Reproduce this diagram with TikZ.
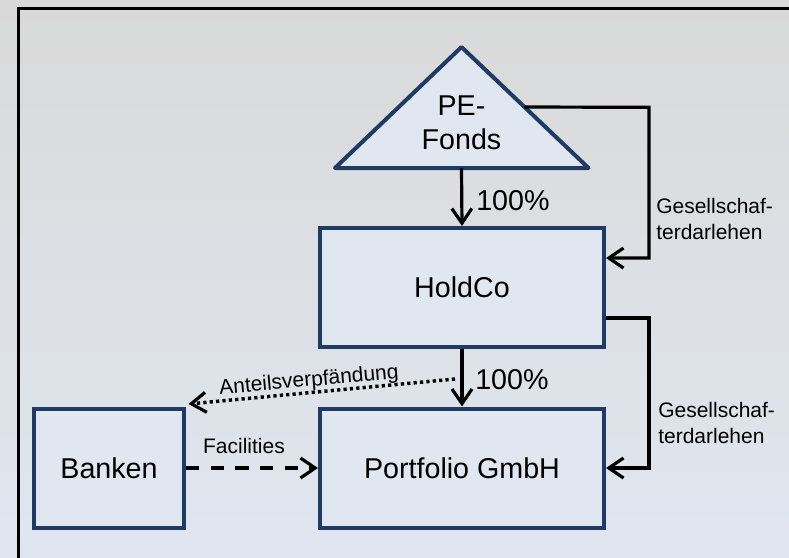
\documentclass[tikz,border=0pt]{standalone}
\usepackage{fontspec}
\setmainfont{Liberation Sans}
\usetikzlibrary{arrows.meta,calc}
\definecolor{bgtop}{HTML}{D9D9D9}
\definecolor{bgbot}{HTML}{E0E6F0}
\definecolor{boxfill}{HTML}{E0E7F1}
\definecolor{boxline}{HTML}{1F3B63}
\tikzset{
  entity/.style={draw=boxline, fill=boxfill, line width=3pt, minimum width=213pt,
    minimum height=89.25pt, inner sep=0pt, font=\fontsize{21.5}{25.5}\selectfont},
  flow/.style={line width=2.4pt, -{Straight Barb[length=11pt,width=15pt,line width=2.4pt]}},
  bigtxt/.style={font=\fontsize{21.5}{25.5}\selectfont, inner sep=0pt},
  smalltxt/.style={font=\fontsize{15.75}{19.5}\selectfont, inner sep=0pt, align=left},
}
\begin{document}
\begin{tikzpicture}[x=0.75pt,y=-0.75pt]
  \useasboundingbox (0,0) rectangle (789,557);
  \clip (0,0) rectangle (789,557);
  % background and frame
  \shade[top color=bgtop, bottom color=bgbot] (0,0) rectangle (789,557);
  \draw[line width=2pt] (18.5,8.2) rectangle (820,600);

  % fund (triangle)
  \coordinate (apex) at (461.5,47);
  \coordinate (bl) at (335,168);
  \coordinate (br) at (588.5,168);
  \filldraw[draw=boxline, fill=boxfill, line width=3pt, line join=round]
    (apex) -- (br) -- (bl) -- cycle;
  \coordinate (pebase) at (461.5,168);
  \coordinate (peside) at ($(apex)!0.496!(br)$);
  \node[bigtxt, align=center] (pe) at (461.5,123) {PE-\\Fonds};

  % companies
  \node[entity] (hold) at (462,287.5) {HoldCo};
  \node[entity] (port) at (462,468) {Portfolio GmbH};
  \node[entity, minimum width=112.5pt] (bank) at (109,468) {Banken};

  % ownership
  \draw[flow] (pebase) -- (hold.north);
  \draw[flow] (hold.south) -- (port.north);
  \node[bigtxt, anchor=west] (p1) at (476,201) {100\%};
  \node[bigtxt, anchor=west] (p2) at (475,380) {100\%};

  % shareholder loans
  \coordinate (ltop) at (649,107.3);
  \draw[flow] (peside) -- (ltop) |- ([yshift=22.1pt]hold.east);
  \node[smalltxt, anchor=west] (g1) at (656,218.5) {Gesellschaf-\\terdarlehen};
  \coordinate (lbot) at (649,318);
  \draw[flow] (hold.east |- lbot) -- (lbot) |- (port.east);
  \node[smalltxt, anchor=west] (g2) at (658,422.5) {Gesellschaf-\\terdarlehen};

  % bank financing and pledge
  \draw[flow, dash pattern=on 10pt off 8.5pt] (bank.east) -- (port.west);
  \node[smalltxt] (fac) at (244,445.5) {Facilities};
  \coordinate (pl) at (455,379);
  \draw[flow, line width=2.6pt, dash pattern=on 2.4pt off 2.4pt] (pl) -- ([shift={(2.5,-2.5)}]bank.north east);
  \node[smalltxt, rotate=5] (anv) at (309,381) {Anteilsverpfändung};
\end{tikzpicture}
\end{document}
